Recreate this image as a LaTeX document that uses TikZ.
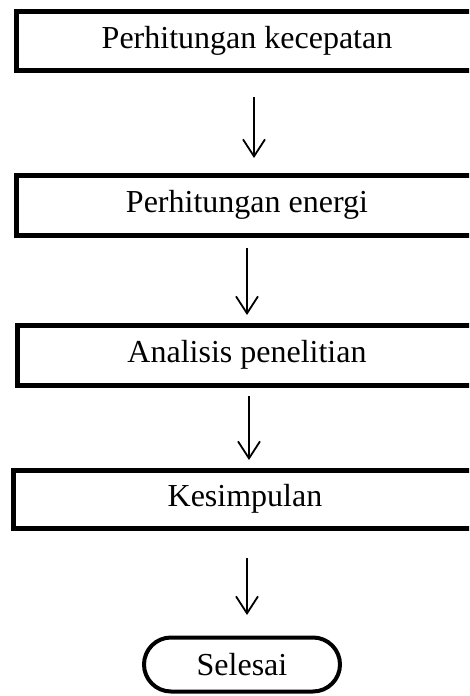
\documentclass[tikz,border=0pt]{standalone}
\usepackage{fontspec}
\setmainfont{Liberation Serif}
\usetikzlibrary{arrows.meta,calc}
\begin{document}
\begin{tikzpicture}[x=1pt,y=-1pt,
  stepbox/.style={draw=black,line width=5pt,rectangle,inner sep=0pt,font=\fontsize{32}{36}\selectfont},
  endbox/.style={draw=black,line width=4pt,rectangle,rounded corners=27pt,inner sep=0pt,minimum width=196pt,minimum height=54pt,font=\fontsize{32}{36}\selectfont},
  arr/.style={line width=1.8pt,-{Straight Barb[length=17pt,width=22pt]}}]
\useasboundingbox (0,0) rectangle (469,696);
\clip (0,0) rectangle (469,696);
\node[stepbox,minimum width=462pt,minimum height=59.5pt] (b1) at (247,40.75) {Perhitungan kecepatan};
\node[stepbox,minimum width=462pt,minimum height=60pt] (b2) at (247,205) {Perhitungan energi};
\node[stepbox,minimum width=460pt,minimum height=60pt] (b3) at (247,355) {Analisis penelitian};
\node[stepbox,minimum width=464pt,minimum height=58pt] (b4) at (245,499) {Kesimpulan};
\node[endbox] (e) at (242,664.5) {Selesai};
\coordinate (a1s) at (254,97);
\coordinate (a1e) at (254,158);
\coordinate (a2s) at (247,248);
\coordinate (a2e) at (247,315);
\coordinate (a3s) at (249,396);
\coordinate (a3e) at (249,460);
\coordinate (a4s) at (247,558);
\coordinate (a4e) at (247,615);
\draw[arr] (a1s) -- (a1e);
\draw[arr] (a2s) -- (a2e);
\draw[arr] (a3s) -- (a3e);
\draw[arr] (a4s) -- (a4e);
\end{tikzpicture}
\end{document}
